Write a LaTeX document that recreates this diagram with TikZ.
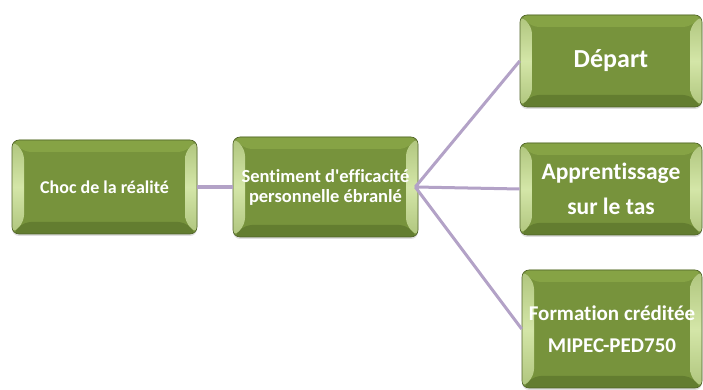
\documentclass[tikz,border=0pt]{standalone}
\usepackage{fontspec}
\setmainfont{Carlito}[Ligatures=NoCommon]
\usetikzlibrary{calc, shadows}

\definecolor{boxgreen}{HTML}{77933C}
\definecolor{boxdark}{HTML}{4F6228}
\definecolor{bevlight}{HTML}{D4E6A8}
\definecolor{bevtop}{HTML}{86A345}
\definecolor{bevbot}{HTML}{637D30}
\definecolor{linkpurple}{HTML}{B3A2C7}

\tikzset{
  bevel/.style={
    path picture={
      \def\bev{12pt}
      \coordinate (bnw) at (path picture bounding box.north west);
      \coordinate (bne) at (path picture bounding box.north east);
      \coordinate (bsw) at (path picture bounding box.south west);
      \coordinate (bse) at (path picture bounding box.south east);
      % top and bottom faces
      \fill[bevtop] (bnw) -- (bne) -- ([shift={(-\bev,-\bev)}]bne) -- ([shift={(\bev,-\bev)}]bnw) -- cycle;
      \fill[bevbot] (bsw) -- (bse) -- ([shift={(-\bev,\bev)}]bse) -- ([shift={(\bev,\bev)}]bsw) -- cycle;
      % side faces
      \shade[top color=boxgreen!40!bevlight, bottom color=boxgreen!40!bevlight, middle color=bevlight]
        (bnw) -- ([shift={(\bev,-\bev)}]bnw) -- ([shift={(\bev,\bev)}]bsw) -- (bsw) -- cycle;
      \shade[top color=boxgreen!40!bevlight, bottom color=boxgreen!40!bevlight, middle color=bevlight]
        (bne) -- ([shift={(-\bev,-\bev)}]bne) -- ([shift={(-\bev,\bev)}]bse) -- (bse) -- cycle;
    }
  },
  stage/.style={draw=boxdark, line width=0.6pt, fill=boxgreen, rounded corners=7pt,
    text=white, align=center, inner sep=0pt, bevel,
    drop shadow={opacity=0.25, shadow xshift=0pt, shadow yshift=-2pt}},
  link/.style={linkpurple, line width=3pt}
}

\begin{document}
\begin{tikzpicture}[x=1pt, y=1pt]
  \useasboundingbox (0,0) rectangle (703,390);

  \node[stage, minimum width=185pt, minimum height=94pt,
    font=\bfseries\fontsize{18}{20}\selectfont] (choc) at (104.5,203)
    {Choc de la réalité};
  \node[stage, minimum width=185pt, minimum height=100pt,
    font=\bfseries\fontsize{18.5}{20}\selectfont] (sentiment) at (325.5,203)
    {Sentiment d\textquotesingle efficacité\\personnelle ébranlé};

  \node[stage, minimum width=182pt, minimum height=92pt,
    font=\bfseries\fontsize{26}{30}\selectfont] (depart) at (611,329)
    {Départ};
  \node[stage, minimum width=182pt, minimum height=92pt,
    font=\bfseries\fontsize{23.5}{35}\selectfont] (tas) at (611,201)
    {Apprentissage\\sur le tas};
  \node[stage, minimum width=180pt, minimum height=118pt,
    font=\bfseries\fontsize{21}{32}\selectfont] (formation) at (612,61)
    {Formation créditée\\MIPEC-PED750};

  \coordinate (hub) at ([xshift=-3pt]sentiment.east);

  \draw[link, line width=3.5pt] (choc.east) -- (sentiment.west);
  \draw[link] (hub) -- (depart.west);
  \draw[link] (hub) -- (tas.west);
  \draw[link] (hub) -- (formation.west);
\end{tikzpicture}
\end{document}
